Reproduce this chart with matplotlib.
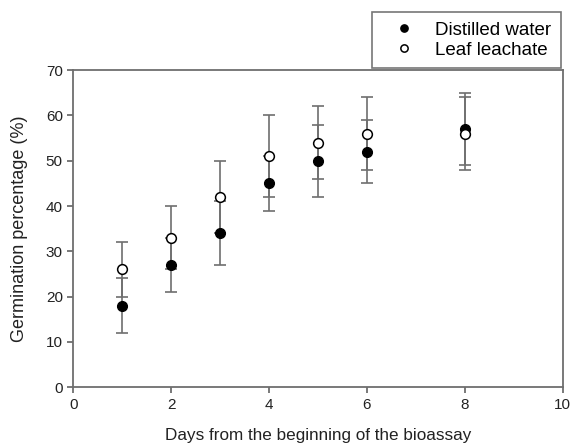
import matplotlib.pyplot as plt

plt.rcParams["font.family"] = ["Liberation Sans", "DejaVu Sans"]

days = [1, 2, 3, 4, 5, 6, 8]
distilled = [18, 27, 34, 45, 50, 52, 57]
distilled_err = [6, 6, 7, 6, 8, 7, 8]
leachate = [26, 33, 42, 51, 54, 56, 56]
leachate_err = [6, 7, 8, 9, 8, 8, 8]

grey = "#6e6e6e"
text_col = "#222222"

fig = plt.figure(figsize=(5.72, 4.47), dpi=100)
ax = fig.add_axes([0.128, 0.134, 0.856, 0.709])

# error bars below both marker sets
for y, e in [(distilled, distilled_err), (leachate, leachate_err)]:
    ax.errorbar(days, y, yerr=e, fmt="none", ecolor=grey, elinewidth=1.2,
                capsize=4, capthick=1.2, zorder=2)

ax.plot(days, distilled, "o", color="black", markersize=7,
        label="Distilled water", zorder=3)
ax.plot(days, leachate, "o", mfc="white", mec="black", mew=1.1,
        markersize=7, label="Leaf leachate", zorder=4)

ax.set_xlim(0, 10)
ax.set_ylim(0, 70)
ax.set_xticks(range(0, 11, 2))
ax.set_yticks(range(0, 71, 10))
for s in ax.spines.values():
    s.set_color(grey)
    s.set_linewidth(1.3)
ax.tick_params(direction="out", color=grey, width=1.3, length=4,
               labelsize=11, labelcolor=text_col)
ax.set_xlabel("Days from the beginning of the bioassay", fontsize=12.3,
              labelpad=12, color=text_col)
ax.set_ylabel("Germination percentage (%)", fontsize=13, color=text_col,
              labelpad=13)

leg = ax.legend(loc="lower right", bbox_to_anchor=(1.0, 1.0),
                borderaxespad=0.1, fancybox=False, fontsize=13.5,
                markerscale=0.75, handlelength=2.4, handletextpad=0.5,
                borderpad=0.5, labelspacing=0.15)
leg.get_frame().set_edgecolor("#555555")
leg.get_frame().set_linewidth(1.2)

fig.savefig("out.png", dpi=100)
